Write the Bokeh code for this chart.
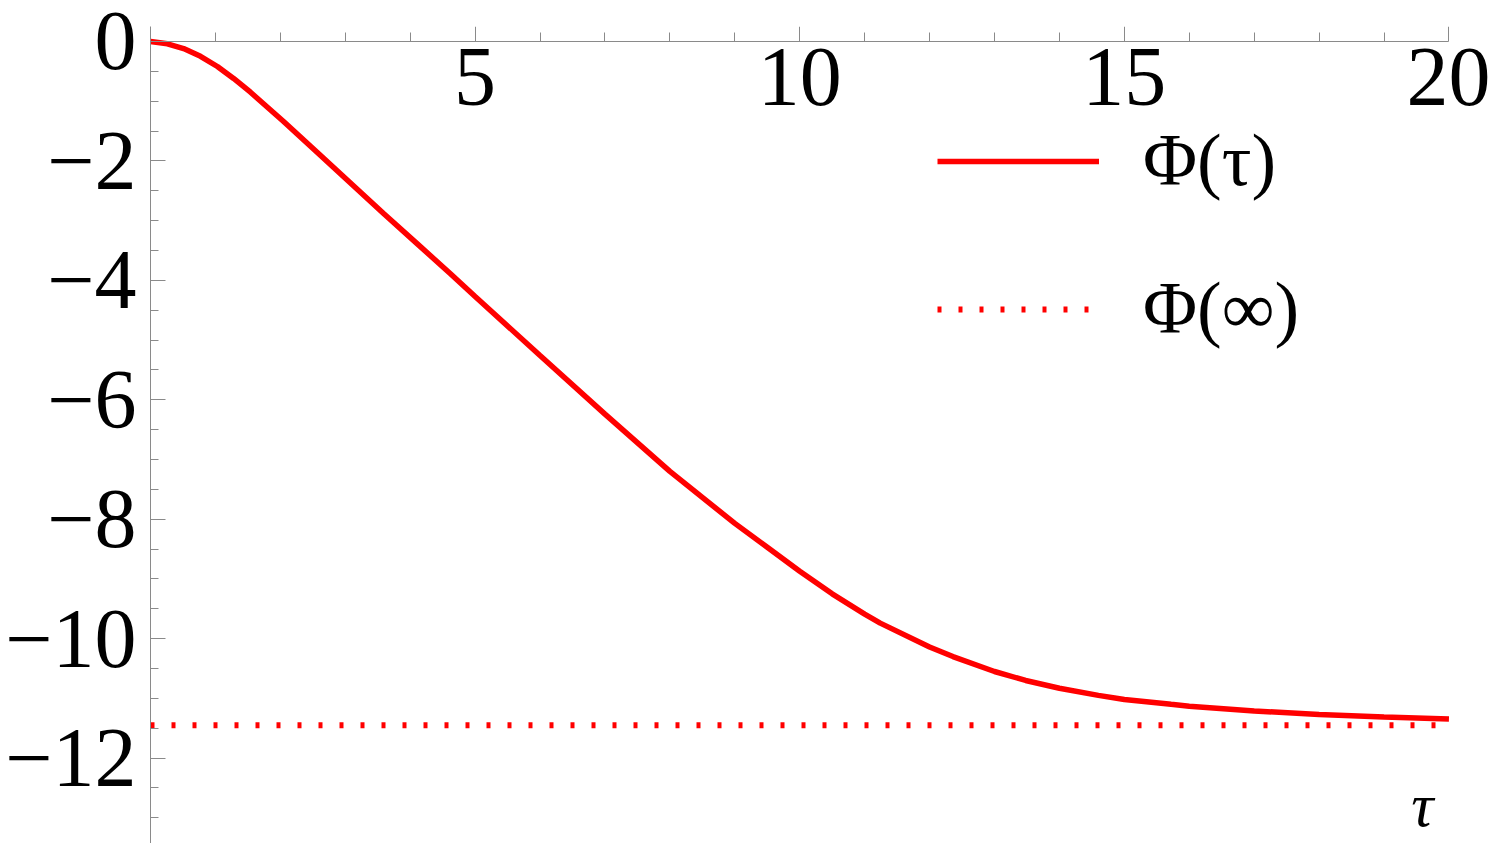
from bokeh.plotting import figure
from bokeh.models import LinearAxis, FixedTicker, Legend, LegendItem, Label, Range1d
from bokeh.embed import file_html
from bokeh.resources import INLINE

# ---- data ----
tau = [0.0, 0.26, 0.51, 0.77, 1.03, 1.28, 1.54, 2.05, 2.57, 3.08, 3.59, 4.11,
       4.62, 5.0, 6.0, 7.0, 8.0, 9.0, 9.5, 10.0, 10.5, 11.0, 11.24, 12.0,
       12.36, 13.0, 13.48, 14.0, 14.6, 15.0, 15.72, 16.0, 17.0, 18.0, 19.0, 20.0]
phi = [0.0, -0.04, -0.12, -0.25, -0.42, -0.62, -0.85, -1.34, -1.86, -2.37, -2.88, -3.39,
       -3.89, -4.27, -5.26, -6.24, -7.20, -8.07, -8.47, -8.87, -9.25, -9.59, -9.74, -10.14,
       -10.30, -10.55, -10.70, -10.83, -10.95, -11.02, -11.10, -11.13, -11.21, -11.27, -11.31, -11.345]
phi_inf = -11.45
tau_span = [tau[0], tau[-1]]

x_major = [5, 10, 15, 20]
x_minor = [i for i in range(1, 20) if i % 5 != 0]
y_major = [0, -2, -4, -6, -8, -10, -12]
y_minor = [-0.5 * k for k in range(1, 27) if k % 4 != 0]
y_labels = {v: ("0" if v == 0 else "\u2212" + str(-v)) for v in y_major}
x_labels = {v: str(v) for v in x_major}

FONT = "Liberation Serif"
AXC = "#8a8a8a"
RED = "#ff0000"

p = figure(width=1490, height=843,
           x_range=Range1d(0, 20.64), y_range=Range1d(-13.43, 0.25),
           x_axis_type=None, y_axis_type=None,
           output_backend="svg", toolbar_location=None,
           min_border_left=150, min_border_right=0,
           min_border_top=26, min_border_bottom=0)
p.outline_line_color = None
p.xgrid.visible = False
p.ygrid.visible = False
p.background_fill_color = "white"

xa = LinearAxis(fixed_location=0, bounds=(0, 20),
                ticker=FixedTicker(ticks=x_major, minor_ticks=x_minor),
                major_label_overrides=x_labels)
xa.axis_line_color = AXC
xa.major_tick_line_color = AXC
xa.minor_tick_line_color = AXC
xa.major_tick_in = 15
xa.major_tick_out = 0
xa.minor_tick_in = 9
xa.minor_tick_out = 0
xa.major_label_standoff = 8
xa.major_label_text_font = FONT
xa.major_label_text_font_size = "84px"
xa.major_label_text_color = "black"
p.add_layout(xa, "below")

ya = LinearAxis(ticker=FixedTicker(ticks=y_major, minor_ticks=y_minor),
                major_label_overrides=y_labels)
ya.axis_line_color = AXC
ya.major_tick_line_color = AXC
ya.minor_tick_line_color = AXC
ya.major_tick_in = 15
ya.major_tick_out = 0
ya.minor_tick_in = 8
ya.minor_tick_out = 0
ya.major_label_standoff = 14
ya.major_label_text_font = FONT
ya.major_label_text_font_size = "84px"
ya.major_label_text_color = "black"
p.add_layout(ya, "left")

r1 = p.line(tau, phi, line_color=RED, line_width=5.5)
r2 = p.line(tau_span, [phi_inf, phi_inf], line_color=RED, line_width=6,
            line_dash="4 17")

legend = Legend(items=[LegendItem(label="\u03a6(\u03c4)", renderers=[r1]),
                       LegendItem(label="\u03a6(\u221e)", renderers=[r2])],
                location=(787, 492), orientation="vertical",
                glyph_width=162, glyph_height=80, label_height=80,
                label_standoff=44, spacing=63, padding=0, margin=0,
                border_line_color=None, background_fill_alpha=0,
                label_text_font=FONT, label_text_font_size="74px",
                label_text_color="black")
p.add_layout(legend)

p.add_layout(Label(x=19.59, y=-12.79, text="\u03c4", text_font=FONT,
                   text_font_style="italic", text_font_size="62px",
                   text_align="center", text_baseline="middle",
                   text_color="black"))

open("out.html", "w").write(file_html(p, INLINE))
